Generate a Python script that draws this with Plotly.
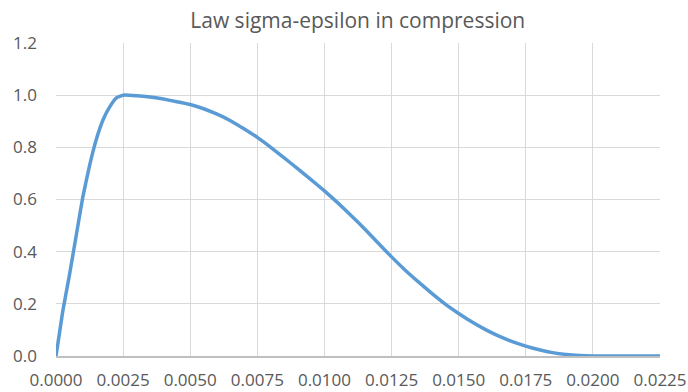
import plotly.graph_objects as go

# Stress-strain law in compression (normalised stress vs strain)
strain = [0.0, 0.00025, 0.0005, 0.00075, 0.001, 0.00125, 0.0015, 0.00175,
          0.002, 0.00225, 0.0025, 0.003, 0.0035, 0.004, 0.0045, 0.005,
          0.0055, 0.006, 0.0065, 0.007, 0.0075, 0.008, 0.0085, 0.009,
          0.0095, 0.01, 0.0105, 0.011, 0.0115, 0.012, 0.0125, 0.013,
          0.0135, 0.014, 0.0145, 0.015, 0.0155, 0.016, 0.0165, 0.017,
          0.0175, 0.018, 0.0185, 0.019, 0.0195, 0.02, 0.021, 0.022, 0.0225]
stress = [0.0, 0.17, 0.31, 0.46, 0.61, 0.73, 0.83, 0.905,
          0.955, 0.99, 1.0, 0.998, 0.993, 0.985, 0.975, 0.964,
          0.948, 0.927, 0.902, 0.871, 0.838, 0.80, 0.76, 0.718,
          0.676, 0.633, 0.587, 0.538, 0.487, 0.433, 0.38, 0.33,
          0.284, 0.24, 0.199, 0.163, 0.13, 0.101, 0.076, 0.055,
          0.038, 0.024, 0.013, 0.006, 0.002, 0.0, 0.0, 0.0, 0.0]

x_ticks = [0.0, 0.0025, 0.005, 0.0075, 0.01, 0.0125, 0.015, 0.0175, 0.02, 0.0225]
y_ticks = [0.0, 0.2, 0.4, 0.6, 0.8, 1.0, 1.2]

font_family = "'Open Sans', Lato, sans-serif"
text_color = "#595959"
grid_color = "#d9d9d9"

fig = go.Figure(
    go.Scatter(
        x=strain, y=stress, mode="lines",
        line=dict(color="#5b9bd5", width=3.5, shape="spline", smoothing=0.4),
        showlegend=False,
    )
)

fig.update_layout(
    width=688, height=392,
    margin=dict(l=56, r=28, t=43, b=36),
    paper_bgcolor="white", plot_bgcolor="white",
    title=dict(text="Law sigma-epsilon in compression", x=0.52, xanchor="center",
               y=1 - 21 / 392, yanchor="middle",
               font=dict(family=font_family, size=21, color=text_color)),
    font=dict(family=font_family, size=17, color=text_color),
)
fig.update_xaxes(
    range=[0, 0.0225], tickvals=x_ticks, ticktext=[f"{v:.4f}" for v in x_ticks],
    showgrid=True, gridcolor=grid_color, gridwidth=1,
    showline=True, linecolor="#bfbfbf", linewidth=1.5, mirror=False,
    zeroline=False, ticks="", ticklabelstandoff=8,
    automargin=False, ticklabeloverflow="allow",
)
fig.update_yaxes(
    range=[0, 1.2], tickvals=y_ticks, ticktext=[f"{v:.1f}" for v in y_ticks],
    showgrid=True, gridcolor=grid_color, gridwidth=1,
    showline=False, zeroline=False, ticks="", ticklabelstandoff=18,
    automargin=False, ticklabeloverflow="allow",
)

fig.write_html("out.html")
